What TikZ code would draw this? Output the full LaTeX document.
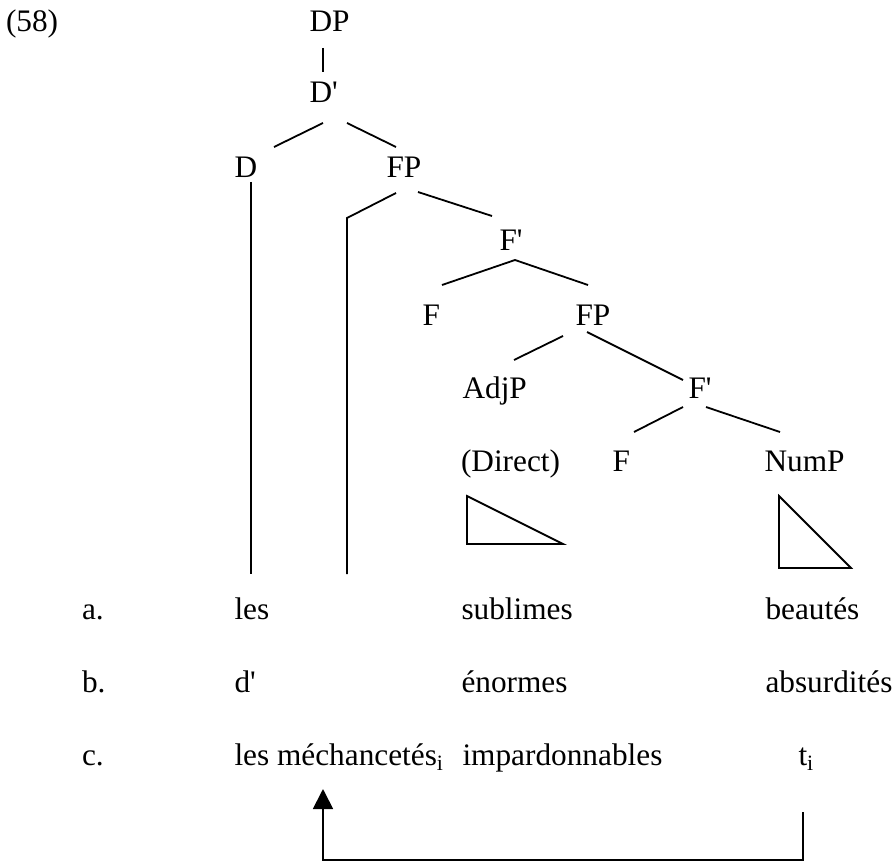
\documentclass[tikz,border=0pt]{standalone}
\usepackage{fontspec}
\setmainfont{Liberation Serif}
\usetikzlibrary{arrows.meta}
\newcommand{\sq}{\textquotesingle}
\tikzset{
  lbl/.style={anchor=base west, inner sep=0pt, outer sep=0pt, font=\fontsize{31.3}{36}\selectfont},
  branch/.style={line width=1.8pt, line cap=butt},
  tri/.style={line width=1.8pt, line join=miter},
  mvarrow/.style={line width=1.8pt, -{Triangle[width=20pt,length=20pt]}}
}
\begin{document}
\begin{tikzpicture}[x=1pt,y=-1pt]
\useasboundingbox (0,0) rectangle (894,861);
% labels
\node[lbl] (ex) at (6,32) {(58)};
\node[lbl] (dp) at (309.5,32) {DP};
\node[lbl] (dbar) at (309.5,103) {D\sq};
\node[lbl] (d) at (234.5,178) {D};
\node[lbl] (fp1) at (386.5,178) {FP};
\node[lbl] (fbar1) at (499.5,250) {F\sq};
\node[lbl] (f1) at (422.5,325) {F};
\node[lbl] (fp2) at (575.5,325) {FP};
\node[lbl] (adjp) at (462.5,398) {AdjP};
\node[lbl] (fbar2) at (688.5,398) {F\sq};
\node[lbl] (direct) at (461,471) {(Direct)};
\node[lbl] (f2) at (612.5,471) {F};
\node[lbl] (nump) at (764.5,471) {NumP};
% rows
\node[lbl] (la) at (82,619) {a.};
\node[lbl] (a1) at (234.5,619) {les};
\node[lbl] (a2) at (461.5,619) {sublimes};
\node[lbl] (a3) at (765.5,619) {beautés};
\node[lbl] (lb) at (82,692) {b.};
\node[lbl] (b1) at (234.5,692) {d\sq};
\node[lbl] (b2) at (461.5,692) {énormes};
\node[lbl] (b3) at (765.5,692) {absurdités};
\node[lbl] (lc) at (82,765) {c.};
\node[lbl] (c1) at (234.5,765) {les méchancetés\textsubscript{i}};
\node[lbl] (c2) at (462.5,765) {impardonnables};
\node[lbl] (c3) at (798.5,765) {t\textsubscript{i}};
% connector end points
\coordinate (dpB) at (323,48);  \coordinate (dbarT) at (323,72);
\coordinate (dbarL) at (323,123); \coordinate (dT) at (274,147);
\coordinate (dbarR) at (347,123); \coordinate (fp1T) at (396,147);
\coordinate (dB) at (251,182); \coordinate (dEnd) at (251,574);
\coordinate (fp1L) at (396,193); \coordinate (specK) at (347,218); \coordinate (specEnd) at (347,574);
\coordinate (fp1R) at (418,192); \coordinate (fbar1T) at (492,216);
\coordinate (fbar1B) at (515,260); \coordinate (f1T) at (442,285); \coordinate (fp2T) at (588,285);
\coordinate (fp2L) at (563,336); \coordinate (adjpT) at (514,360);
\coordinate (fp2R) at (587,332); \coordinate (fbar2T) at (683,380);
\coordinate (fbar2L) at (683,407); \coordinate (f2T) at (634,432);
\coordinate (fbar2R) at (706,407); \coordinate (numpT) at (780,432);
\coordinate (t1a) at (467,496); \coordinate (t1b) at (467,544); \coordinate (t1c) at (563,544);
\coordinate (t2a) at (779,496); \coordinate (t2b) at (779,568); \coordinate (t2c) at (851,568);
\coordinate (mvS) at (803,812); \coordinate (mvC1) at (803,860); \coordinate (mvC2) at (323,860); \coordinate (mvE) at (323,789);
% branches
\draw[branch] (dpB) -- (dbarT);
\draw[branch] (dbarL) -- (dT);
\draw[branch] (dbarR) -- (fp1T);
\draw[branch] (dB) -- (dEnd);
\draw[branch, line join=miter] (fp1L) -- (specK) -- (specEnd);
\draw[branch] (fp1R) -- (fbar1T);
\draw[branch, line join=miter] (f1T) -- (fbar1B) -- (fp2T);
\draw[branch] (fp2L) -- (adjpT);
\draw[branch] (fp2R) -- (fbar2T);
\draw[branch] (fbar2L) -- (f2T);
\draw[branch] (fbar2R) -- (numpT);
% triangles
\draw[tri] (t1a) -- (t1b) -- (t1c) -- cycle;
\draw[tri] (t2a) -- (t2b) -- (t2c) -- cycle;
% movement arrow
\draw[mvarrow, line join=miter] (mvS) -- (mvC1) -- (mvC2) -- (mvE);
\end{tikzpicture}
\end{document}
